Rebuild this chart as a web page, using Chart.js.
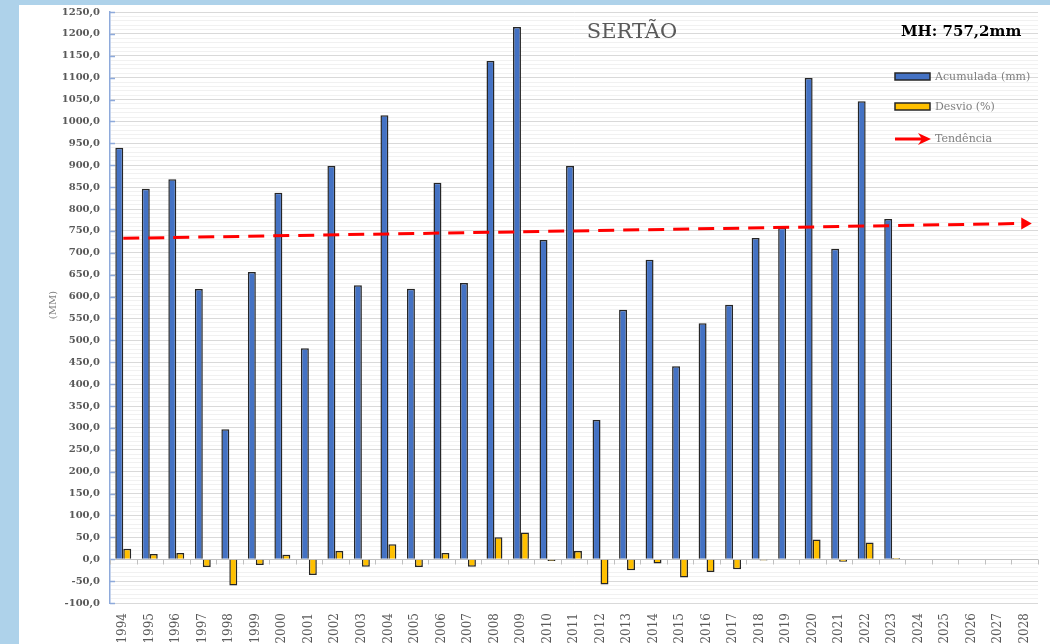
<!DOCTYPE html>
<html>
<head>
<meta charset="utf-8">
<script src="https://cdn.jsdelivr.net/npm/chart.js@4/dist/chart.umd.min.js"></script>
<style>
    body { margin: 0; background: #aed2ea; width: 1050px; height: 644px; overflow: hidden; }
    #panel { position: absolute; left: 19px; top: 5px; width: 1031px; height: 639px; background: #ffffff; }
</style>
</head>
<body>
<div id="panel"><canvas id="sertao" width="1031" height="639"></canvas></div>
<script>
let anos = ['1994','1995','1996','1997','1998','1999','2000','2001','2002','2003','2004','2005','2006','2007','2008','2009','2010','2011','2012','2013','2014','2015','2016','2017','2018','2019','2020','2021','2022','2023','2024','2025','2026','2027','2028'];
let acumulada = [940, 846, 868, 617, 297, 656, 837, 482, 898, 626, 1014, 618, 860, 631, 1138, 1216, 729, 898, 318, 570, 684, 441, 539, 581, 734, 757, 1099, 709, 1046, 777];
let desvio = [24, 12, 14, -18, -60, -13, 10, -36, 19, -17, 34, -18, 14, -17, 50, 61, -4, 19, -58, -25, -10, -42, -29, -23, -3, 0, 45, -6, 38, 3];
let tendenciaAnos = ['1994', '2028'];
let tendenciaValores = [733, 767];
let yTicksPrincipais = 50;

let serifFont = "'DejaVu Serif', 'Liberation Serif', serif";

// linha de tendencia so com os dois extremos, o resto fica null
let tendencia = anos.map(function (a) {
    let i = tendenciaAnos.indexOf(a);
    return i >= 0 ? tendenciaValores[i] : null;
});

function formatBR(v) {
    return v.toFixed(1).replace('.', ',');
}

let extras = {
    id: 'extras',
    afterDraw: function (chart) {
        let c = chart.ctx;
        let xs = chart.scales.x;
        let ys = chart.scales.y;
        let area = chart.chartArea;
        c.save();

        // marquinhas do eixo y (para dentro)
        c.strokeStyle = '#8eaadb';
        c.lineWidth = 1.5;
        for (let v = ys.min; v <= ys.max; v += yTicksPrincipais) {
            let py = Math.round(ys.getPixelForValue(v)) + 0.5;
            c.beginPath();
            c.moveTo(area.left, py);
            c.lineTo(area.left + 5, py);
            c.stroke();
        }

        // marquinhas do eixo x na linha do zero
        let y0 = Math.round(ys.getPixelForValue(0)) + 0.5;
        let w = xs.width / anos.length;
        c.strokeStyle = '#bfbfbf';
        c.lineWidth = 1;
        for (let i = 0; i <= anos.length; i++) {
            let px = Math.round(area.left + i * w) + 0.5;
            c.beginPath();
            c.moveTo(px, y0);
            c.lineTo(px, y0 + 5);
            c.stroke();
        }

        // titulo
        c.fillStyle = '#595959';
        c.font = '21px ' + serifFont;
        c.textAlign = 'center';
        c.textBaseline = 'middle';
        c.fillText('SERTÃO', 613, 28);

        c.fillStyle = '#000000';
        c.font = 'bold 15px ' + serifFont;
        c.textAlign = 'left';
        c.fillText('MH: 757,2mm', 882, 27);

        // titulo do eixo y
        c.save();
        c.translate(34, 300);
        c.rotate(-Math.PI / 2);
        c.fillStyle = '#7f7f7f';
        c.font = '10px ' + serifFont;
        c.textAlign = 'center';
        c.fillText('(MM)', 0, 0);
        c.restore();

        // legenda
        let ds = chart.data.datasets;
        c.font = '11px ' + serifFont;
        c.textAlign = 'left';
        c.lineWidth = 1.5;
        let legendBars = [[ds[1], 72], [ds[2], 102]];
        legendBars.forEach(function (item) {
            c.fillStyle = item[0].backgroundColor;
            c.strokeStyle = item[0].borderColor;
            c.fillRect(876, item[1] - 4, 35, 7);
            c.strokeRect(876, item[1] - 4, 35, 7);
            c.fillStyle = '#7f7f7f';
            c.fillText(item[0].label, 916, item[1]);
        });
        c.strokeStyle = ds[0].borderColor;
        c.fillStyle = ds[0].borderColor;
        c.lineWidth = 3;
        c.beginPath();
        c.moveTo(876, 134);
        c.lineTo(903, 134);
        c.stroke();
        c.beginPath();
        c.moveTo(899, 128);
        c.lineTo(912, 134);
        c.lineTo(899, 140);
        c.lineTo(903, 134);
        c.closePath();
        c.fill();
        c.fillStyle = '#7f7f7f';
        c.fillText(ds[0].label, 916, 134);

        c.restore();
    }
};

let ctx = document.getElementById('sertao').getContext('2d');
let myChart = new Chart(ctx, {
    type: 'bar',
    data: {
        labels: anos,
        datasets: [
            {
                type: 'line',
                label: 'Tendência',
                data: tendencia,
                spanGaps: true,
                borderColor: '#ff0000',
                backgroundColor: '#ff0000',
                borderWidth: 3,
                borderDash: [16, 9],
                pointStyle: 'triangle',
                pointRotation: 90,
                pointRadius: function (c) { return c.dataIndex === anos.length - 1 ? 7 : 0; },
                pointBorderWidth: 0,
                order: 0
            },
            {
                label: 'Acumulada (mm)',
                data: acumulada,
                backgroundColor: '#4472c4',
                borderColor: '#262626',
                borderWidth: 1.5,
                categoryPercentage: 0.6,
                barPercentage: 1,
                order: 1
            },
            {
                label: 'Desvio (%)',
                data: desvio,
                backgroundColor: '#ffc000',
                borderColor: '#262626',
                borderWidth: 1.5,
                categoryPercentage: 0.6,
                barPercentage: 1,
                order: 1
            }
        ]
    },
    options: {
        responsive: false,
        animation: false,
        devicePixelRatio: 1,
        layout: { padding: { top: 7, right: 12, left: 0, bottom: 0 } },
        scales: {
            x: {
                grid: { display: false },
                border: { display: false },
                ticks: {
                    autoSkip: false,
                    minRotation: 90,
                    maxRotation: 90,
                    padding: 2,
                    color: '#595959',
                    font: { family: serifFont, size: 12 }
                },
                afterFit: function (s) { s.height = 41; s.paddingTop = 0; }
            },
            y: {
                min: -100,
                max: 1250,
                ticks: {
                    stepSize: 10,
                    autoSkip: false,
                    padding: 10,
                    color: '#595959',
                    font: { family: serifFont, size: 10, weight: 'bold' },
                    callback: function (v) { return v % yTicksPrincipais === 0 ? formatBR(v) : ''; }
                },
                grid: {
                    drawTicks: false,
                    tickLength: 0,
                    color: function (c) {
                        if (c.tick.value === 0) return '#bfbfbf';
                        return c.tick.value % yTicksPrincipais === 0 ? '#d9d9d9' : '#f1f1f1';
                    }
                },
                border: { color: '#8eaadb', width: 1.5 },
                afterFit: function (s) { s.width = 91; s.paddingTop = 0; s.paddingBottom = 0; }
            }
        },
        plugins: {
            legend: { display: false },
            tooltip: { enabled: false },
            title: { display: false }
        }
    },
    plugins: [extras]
});
</script>
</body>
</html>
